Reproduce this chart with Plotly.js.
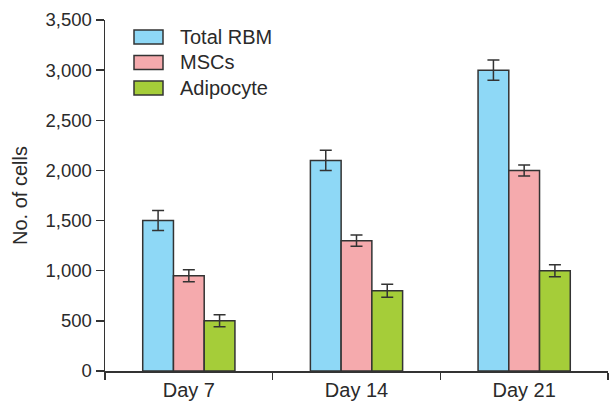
<!DOCTYPE html>
<html>
<head>
<meta charset="utf-8">
<script src="https://cdn.plot.ly/plotly-3.0.1.min.js"></script>
<style>html,body{margin:0;padding:0;background:#fff;}#chart{width:609px;height:405px;}</style>
</head>
<body>
<div id="chart"></div>
<script>
const categories = ["Day 7", "Day 14", "Day 21"];
const seriesNames = ["Total RBM", "MSCs", "Adipocyte"];
const totalRBM = [1500, 2100, 3000];
const totalRBMErr = [100, 100, 100];
const mscs = [950, 1300, 2000];
const mscsErr = [60, 55, 55];
const adipocyte = [500, 800, 1000];
const adipocyteErr = [60, 65, 60];
const colors = ["#8ED8F6", "#F5AAAD", "#A5CD39"];
const yTicks = [0, 500, 1000, 1500, 2000, 2500, 3000, 3500];

const values = [totalRBM, mscs, adipocyte];
const errs = [totalRBMErr, mscsErr, adipocyteErr];
const FONT = "Liberation Sans, Arial, sans-serif";
const TXT = "#2a2a2a";

const traces = values.map((v, i) => ({
  type: "bar",
  name: seriesNames[i],
  x: categories,
  y: v,
  marker: {color: colors[i], line: {color: "#333333", width: 1.5}},
  error_y: {type: "data", array: errs[i], visible: true, color: "#333333", thickness: 1.5, width: 6},
  showlegend: false
}));

// Legend drawn as paper-space boxes with labels (plot area: 503 x 351 px)
const PW = 503, PH = 351;
const legendShapes = seriesNames.map((n, i) => {
  const top = 10 + i * 25.5, bot = top + 14;
  return {type: "rect", xref: "paper", yref: "paper",
    x0: 29 / PW, x1: 58 / PW, y0: 1 - bot / PH, y1: 1 - top / PH,
    fillcolor: colors[i], line: {color: "#333333", width: 1.5}};
});
const legendLabels = seriesNames.map((n, i) => ({
  xref: "paper", yref: "paper", x: 73 / PW, y: 1 - (17 + i * 25.5) / PH,
  xanchor: "left", yanchor: "middle", showarrow: false, text: n,
  font: {family: FONT, size: 20, color: TXT}
}));

const layout = {
  width: 609, height: 405,
  margin: {l: 105, r: 1, t: 20, b: 34},
  paper_bgcolor: "#ffffff", plot_bgcolor: "#ffffff",
  barmode: "group",
  bargap: 0.45, bargroupgap: 0,
  showlegend: false,
  shapes: legendShapes,
  annotations: legendLabels,
  xaxis: {
    type: "category", range: [-0.5, 2.5],
    showline: true, linecolor: "#333", linewidth: 1.5,
    ticks: "outside", ticklen: 7, tickwidth: 1.5, tickcolor: "#333",
    tickson: "boundaries", showgrid: false, zeroline: false,
    tickfont: {family: FONT, size: 20, color: TXT}
  },
  yaxis: {
    range: [0, 3500], tickvals: yTicks, tickformat: ",d",
    showline: true, linecolor: "#333", linewidth: 1.5,
    ticks: "outside", ticklen: 8, tickwidth: 1.5, tickcolor: "#333",
    showgrid: false, zeroline: false,
    tickfont: {family: FONT, size: 18.5, color: TXT},
    title: {text: "No. of cells", font: {family: FONT, size: 20, color: TXT}, standoff: 12}
  }
};

Plotly.newPlot("chart", traces, layout, {displayModeBar: false, staticPlot: true});
</script>
</body>
</html>
